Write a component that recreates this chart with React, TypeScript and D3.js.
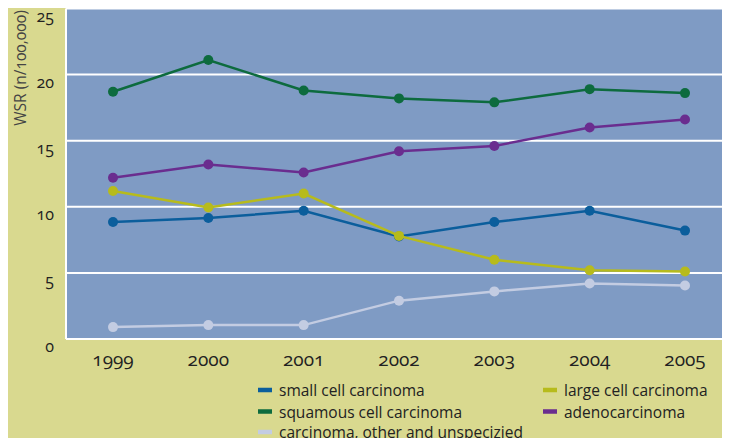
import { useEffect, useRef } from 'react'
import * as d3 from 'd3'

const years = ['1999', '2000', '2001', '2002', '2003', '2004', '2005']
const yTicks = [0, 5, 10, 15, 20, 25]

const smallCell = [8.85, 9.15, 9.7, 7.75, 8.85, 9.7, 8.2]
const squamous = [18.7, 21.1, 18.8, 18.2, 17.9, 18.9, 18.6]
const largeCell = [11.2, 9.95, 11.0, 7.8, 6.0, 5.2, 5.1]
const adeno = [12.2, 13.2, 12.6, 14.2, 14.6, 16.0, 16.6]
const other = [0.9, 1.05, 1.05, 2.9, 3.6, 4.2, 4.05]

const seriesNames = [
  'small cell carcinoma',
  'squamous cell carcinoma',
  'large cell carcinoma',
  'adenocarcinoma',
  'carcinoma, other and unspecizied',
]

const width = 730
const height = 446
const FONT = '"Open Sans", "Noto Sans", sans-serif'

function App() {
  const ref = useRef<SVGSVGElement>(null)

  useEffect(() => {
    drawChart()
  }, [])

  const drawChart = () => {
    const svg = d3.select(ref.current)
    svg.selectAll('*').remove()

    const left = 66
    const top = 8.5
    const bottom = 339

    const xScale = d3.scalePoint().domain(years).range([113, 685])
    const yScale = d3.scaleLinear().domain([0, 25]).range([bottom, top])

    svg.append('rect').attr('width', width).attr('height', height).attr('fill', '#d9d98f')

    svg
      .append('rect')
      .attr('x', left)
      .attr('y', top)
      .attr('width', width - left)
      .attr('height', bottom - top)
      .attr('fill', '#7f9bc4')

    // grid
    svg
      .append('g')
      .selectAll('line')
      .data(yTicks)
      .join('line')
      .attr('x1', left)
      .attr('x2', width)
      .attr('y1', (d) => yScale(d))
      .attr('y2', (d) => yScale(d))
      .attr('stroke', '#ffffff')
      .attr('stroke-width', 2)
    svg
      .append('line')
      .attr('x1', left)
      .attr('x2', left)
      .attr('y1', top)
      .attr('y2', bottom)
      .attr('stroke', '#ffffff')
      .attr('stroke-width', 2)

    // y labels
    svg
      .append('g')
      .selectAll('text')
      .data(yTicks)
      .join('text')
      .attr('x', 54)
      .attr('y', (d) => yScale(d) + 13)
      .attr('text-anchor', 'end')
      .attr('font-family', FONT)
      .attr('font-size', 16)
      .attr('fill', '#222')
      .style('font-feature-settings', '"onum"')
      .text((d) => d)

    svg
      .append('text')
      .attr('transform', 'translate(26,68) rotate(-90)')
      .attr('text-anchor', 'middle')
      .attr('font-family', FONT)
      .attr('font-size', 15.5)
      .attr('fill', '#444')
      .style('font-feature-settings', '"onum"')
      .text('WSR (n/100,000)')

    // x labels
    svg
      .append('g')
      .selectAll('text')
      .data(years)
      .join('text')
      .attr('x', (d) => xScale(d)!)
      .attr('y', 366)
      .attr('text-anchor', 'middle')
      .attr('font-family', FONT)
      .attr('font-size', 19)
      .attr('fill', '#222')
      .style('font-feature-settings', '"onum"')
      .text((d) => d)

    const series = [
      { values: other, color: '#c3cce2' },
      { values: smallCell, color: '#0b5e9c' },
      { values: largeCell, color: '#b7bb1c' },
      { values: adeno, color: '#6a2d8f' },
      { values: squamous, color: '#0d6b3e' },
    ]

    const line = d3
      .line<number>()
      .x((_, i) => xScale(years[i])!)
      .y((d) => yScale(d))

    series.forEach((s) => {
      svg
        .append('path')
        .datum(s.values)
        .attr('fill', 'none')
        .attr('stroke', s.color)
        .attr('stroke-width', 2.5)
        .attr('d', line)
      svg
        .append('g')
        .selectAll('circle')
        .data(s.values)
        .join('circle')
        .attr('cx', (_, i) => xScale(years[i])!)
        .attr('cy', (d) => yScale(d))
        .attr('r', 5)
        .attr('fill', s.color)
    })

    // legend
    const legend = [
      { name: seriesNames[0], color: '#0b5e9c', x: 258, y: 390 },
      { name: seriesNames[1], color: '#0d6b3e', x: 258, y: 411.5 },
      { name: seriesNames[4], color: '#c3cce2', x: 258, y: 432 },
      { name: seriesNames[2], color: '#b7bb1c', x: 543, y: 390 },
      { name: seriesNames[3], color: '#6a2d8f', x: 543, y: 411.5 },
    ]
    const lg = svg.append('g').selectAll('g').data(legend).join('g')
    lg.append('rect')
      .attr('x', (d) => d.x)
      .attr('y', (d) => d.y - 2.25)
      .attr('width', 14)
      .attr('height', 4.5)
      .attr('fill', (d) => d.color)
    lg.append('text')
      .attr('x', (d) => d.x + 21)
      .attr('y', (d) => d.y + 6)
      .attr('font-family', FONT)
      .attr('font-size', 15.5)
      .attr('fill', '#222')
      .text((d) => d.name)
  }

  return (
    <div style={{ margin: -8 }}>
      <svg ref={ref} width={width} height={height} style={{ display: 'block' }} />
    </div>
  )
}

export default App
